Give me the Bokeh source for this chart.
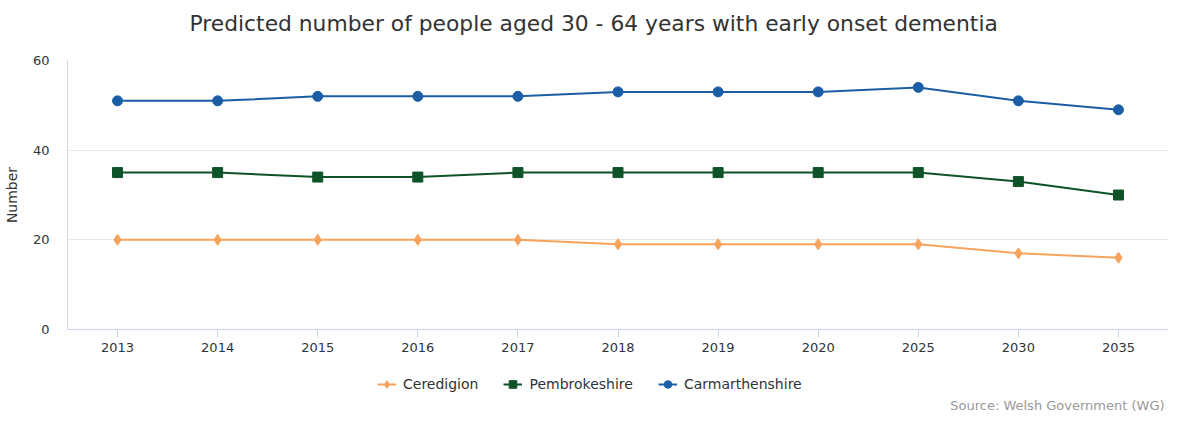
from bokeh.plotting import figure
from bokeh.models import Range1d, Legend, LegendItem, Label, FactorRange
from bokeh.layouts import column
from bokeh.embed import file_html
from bokeh.resources import INLINE

years = ["2013", "2014", "2015", "2016", "2017", "2018", "2019", "2020", "2025", "2030", "2035"]
ceredigion = [20, 20, 20, 20, 20, 19, 19, 19, 19, 17, 16]
pembrokeshire = [35, 35, 34, 34, 35, 35, 35, 35, 35, 33, 30]
carmarthenshire = [51, 51, 52, 52, 52, 53, 53, 53, 54, 51, 49]

TITLE = "Predicted number of people aged 30 - 64 years with early onset dementia"
SOURCE = "Source: Welsh Government (WG)"

FONT = "DejaVu Sans"
W = 1168
LEFT = 59
QW = W - LEFT


def strip(h):
    f = figure(width=W, height=h, x_range=Range1d(0, QW), y_range=Range1d(0, h),
               output_backend="svg", toolbar_location=None,
               x_axis_location=None, y_axis_location=None,
               min_border_left=LEFT, min_border_right=0, min_border_top=0, min_border_bottom=0)
    f.grid.visible = False
    f.outline_line_color = None
    return f


# title strip
t = strip(52)
t.add_layout(Label(x=530, y=29, text=TITLE, text_align="center", text_baseline="middle",
                   text_font=FONT, text_font_size="21.8px", text_color="#333333"))

p = figure(width=W, height=312, x_range=FactorRange(*years, range_padding=0),
           y_range=Range1d(0, 60), output_backend="svg", toolbar_location=None,
           min_border_left=LEFT, min_border_right=0, min_border_top=8, min_border_bottom=35)

p.outline_line_color = None
p.xgrid.grid_line_color = None
p.ygrid.grid_line_color = "#e6e6e6"
p.yaxis.ticker = [0, 20, 40, 60]
p.yaxis.axis_label = "Number"
p.yaxis.axis_label_text_font = FONT
p.yaxis.axis_label_text_font_style = "normal"
p.yaxis.axis_label_text_font_size = "14px"
p.yaxis.axis_label_text_color = "#333333"
p.yaxis.axis_label_standoff = 10
for ax in (p.xaxis, p.yaxis):
    ax.axis_line_color = "#ccd6eb"
    ax.major_label_text_font = FONT
    ax.major_label_text_font_size = "13px"
    ax.major_label_text_color = "#333333"
    ax.minor_tick_line_color = None
p.yaxis.major_tick_line_color = None
p.yaxis.major_label_standoff = 12
p.xaxis.major_tick_line_color = "#ccd6eb"
p.xaxis.major_tick_in = 0
p.xaxis.major_tick_out = 8
p.xaxis.major_label_standoff = 5

series = [
    ("Ceredigion", ceredigion, "#f7a35c", "diamond", 11),
    ("Pembrokeshire", pembrokeshire, "#0e5328", "square", 10),
    ("Carmarthenshire", carmarthenshire, "#1b5ea6", "circle", 10),
]

# legend / source strip below the chart
q = strip(49)

items = []
for name, vals, col, mk, sz in series:
    p.line(years, vals, line_color=col, line_width=2)
    p.scatter(years, vals, marker=mk, size=sz, fill_color=col, line_color=col)
    l = q.line([-100, -90], [-100, -100], line_color=col, line_width=2)
    s = q.scatter([-100], [-100], marker=mk, size=sz, fill_color=col, line_color=col)
    items.append(LegendItem(label=name, renderers=[l, s]))

legend = Legend(items=items, orientation="horizontal", location=(310, 19),
                label_text_font=FONT, label_text_font_size="14px", label_text_color="#333333",
                border_line_color=None, background_fill_alpha=0, spacing=25,
                glyph_width=19, label_standoff=7, margin=0, padding=0)
q.add_layout(legend)

q.add_layout(Label(x=QW - 4, y=8, text=SOURCE, text_align="right", text_baseline="middle",
                   text_font=FONT, text_font_size="13px", text_color="#999999"))

open("out.html", "w").write(file_html(column(t, p, q, spacing=0), INLINE))
